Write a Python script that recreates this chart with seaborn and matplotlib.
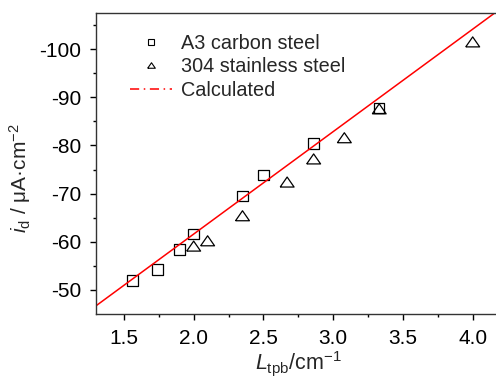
import numpy as np
import pandas as pd
import matplotlib
matplotlib.use("Agg")
import matplotlib.pyplot as plt
from matplotlib.lines import Line2D
import seaborn as sns

# ---- data ----
a3_x = [1.56, 1.74, 1.90, 2.00, 2.35, 2.50, 2.86, 3.33]
a3_y = [-51.9, -54.2, -58.4, -61.6, -69.5, -73.9, -80.4, -87.8]
ss_x = [2.00, 2.10, 2.35, 2.67, 2.86, 3.08, 3.33, 4.00]
ss_y = [-59.1, -60.2, -65.4, -72.4, -77.2, -81.6, -87.6, -101.5]
calc_x = [1.3, 4.2]
calc_y = [-46.7, -108.4]
labels = ["A3 carbon steel", "304 stainless steel", "Calculated"]

sns.set_style("ticks")
plt.rcParams["font.family"] = ["Liberation Sans", "DejaVu Sans"]
plt.rcParams["mathtext.fontset"] = "custom"
plt.rcParams["mathtext.rm"] = "Liberation Sans"
plt.rcParams["mathtext.it"] = "Liberation Sans:italic"

fig = plt.figure(figsize=(4.96, 3.82), dpi=100)
ax = fig.add_axes([96/496, 68/382, 404.6/496, 301/382])

tri = [(-1, -0.72), (1, -0.72), (0, 0.72), (-1, -0.72)]

sns.lineplot(x=calc_x, y=calc_y, ax=ax, color="red", lw=1.1, legend=False)
sns.scatterplot(x=a3_x, y=a3_y, ax=ax, marker="s", s=7.6**2,
                facecolor="none", edgecolor="black", linewidth=0.9, legend=False)
sns.scatterplot(x=ss_x, y=ss_y, ax=ax, marker=tri, s=10**2,
                facecolor="none", edgecolor="black", linewidth=0.9, legend=False)

ax.set_xlim(1.3, 4.2)
ax.set_ylim(-45, -107.5)
ax.set_xticks([1.5, 2.0, 2.5, 3.0, 3.5, 4.0])
ax.set_xticks(np.arange(1.75, 4.2, 0.5), minor=True)
ax.set_yticks([-50, -60, -70, -80, -90, -100])
ax.set_yticks([-55, -65, -75, -85, -95, -105], minor=True)
ax.set_xticklabels(["1.5", "2.0", "2.5", "3.0", "3.5", "4.0"])
ax.set_yticklabels(["-50", "-60", "-70", "-80", "-90", "-100"])
ax.tick_params(which="major", direction="out", length=4.5, width=1, labelsize=15,
               colors="black", pad=6)
ax.tick_params(which="minor", direction="out", length=2.5, width=1, colors="black")
for s in ax.spines.values():
    s.set_color("#333333")
    s.set_linewidth(1)

ax.set_xlabel(r"$L_{\rm tpb}$/cm$^{-1}$", fontsize=15.5, labelpad=1)
ax.set_ylabel(r"$i_{\rm d}$ / μA·cm$^{-2}$", fontsize=15)
ax.yaxis.set_label_coords(-0.155, 0.45)

handles = [
    Line2D([], [], ls="none", marker="s", markersize=3.8, markerfacecolor="none",
           markeredgecolor="black", markeredgewidth=0.8),
    Line2D([], [], ls="none", marker=tri, markersize=5.5, markerfacecolor="none",
           markeredgecolor="black", markeredgewidth=0.8),
    Line2D([], [], color="red", lw=1.1, ls=(0, (6, 3, 1, 3))),
]
ax.legend(handles, labels, loc="upper left", bbox_to_anchor=(0.065, 0.958),
          frameon=False, fontsize=14.3, handlelength=2.1, handletextpad=0.45,
          labelspacing=0.24, borderaxespad=0)

fig.savefig("out.png", dpi=100)
